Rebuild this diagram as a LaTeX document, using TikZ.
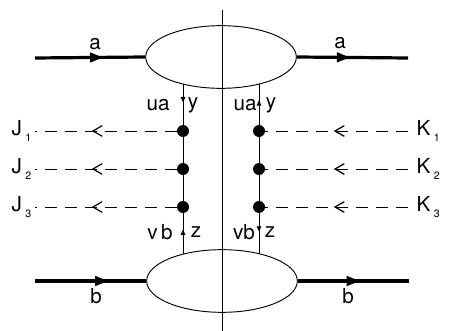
\documentclass[tikz,border=0pt]{standalone}
\usepackage{fontspec}
\setmainfont{TeX Gyre Heros}
\usepackage{tikz}
\usetikzlibrary{arrows.meta,shapes.geometric,decorations.markings}

\newcommand{\sub}[2]{#1\,\raisebox{-4pt}{\footnotesize #2}}

\begin{document}
\begin{tikzpicture}[
  x=0.75pt, y=-0.75pt,
  blob/.style={ellipse, draw, line width=0.7pt, minimum width=113pt, minimum height=47pt, inner sep=0pt},
  heavy/.style={line width=2.4pt},
  thin/.style={line width=0.7pt},
  dashline/.style={line width=0.7pt, dash pattern=on 9pt off 6pt},
  dot/.style={circle, fill, inner sep=0pt, minimum size=9pt},
  midarrow/.style={postaction={decorate}, decoration={markings,
    mark=at position #1 with {\arrow{Triangle[length=10pt,width=7pt]}}}},
  midbarb/.style={postaction={decorate}, decoration={markings,
    mark=at position #1 with {\arrow{Straight Barb[length=7pt,width=8pt,line width=0.9pt]}}}},
  tinytip/.style={postaction={decorate}, decoration={markings,
    mark=at position #1 with {\arrow{Triangle[length=4pt,width=3.5pt]}}}},
  lbl/.style={font=\fontsize{15.5}{17}\selectfont, inner sep=1pt}
]
  \useasboundingbox (0,0) rectangle (449,331);

  % the two blobs and the cut
  \node[blob] (upper) at (221,57) {};
  \node[blob] (lower) at (222,281) {};
  \coordinate (cuttop) at (222,10);
  \coordinate (cutbot) at (222,331);
  \draw[thin] (cuttop) -- (cutbot);

  % external lines
  \coordinate (ain) at (35,58);
  \coordinate (aout) at (408,58);
  \coordinate (bin) at (35,281);
  \coordinate (bout) at (409,281);
  \draw[heavy, midarrow=0.62] (ain) -- (upper.west);
  \draw[heavy, midarrow=0.48] (upper.east) -- (aout);
  \draw[heavy, midarrow=0.66] (bin) -- (lower.west);
  \draw[heavy, midarrow=0.56] (lower.east) -- (bout);
  \node[lbl] (la1) at (95,44) {a};
  \node[lbl] (la2) at (340,43) {a};
  \node[lbl] (lb1) at (96,296) {b};
  \node[lbl] (lb2) at (348,296) {b};

  % rungs
  \coordinate (ltop) at (183,84);
  \coordinate (lbot) at (183,254);
  \coordinate (rtop) at (259,84);
  \coordinate (rbot) at (259,254);
  \node[dot] (j1) at (183,131) {};
  \node[dot] (j2) at (183,169) {};
  \node[dot] (j3) at (183,207) {};
  \node[dot] (k1) at (259,131) {};
  \node[dot] (k2) at (259,169) {};
  \node[dot] (k3) at (259,207) {};
  \draw[thin, tinytip=0.45] (ltop) -- (j1);
  \draw[thin] (j1) -- (j2) -- (j3);
  \draw[thin, tinytip=0.6] (lbot) -- (j3);
  \draw[thin, tinytip=0.6] (k1) -- (rtop);
  \draw[thin] (k1) -- (k2) -- (k3);
  \draw[thin, tinytip=0.45] (k3) -- (rbot);

  \node[lbl] (ua1) at (158,105) {ua};
  \node[lbl] (y1) at (193,105) {y};
  \node[lbl] (ua2) at (245,105) {ua};
  \node[lbl] (y2) at (271,105) {y};
  \node[lbl] (vb1) at (160,232) {v\,b};
  \node[lbl] (z1) at (196,232) {z};
  \node[lbl] (vb2) at (244,232) {vb};
  \node[lbl] (z2) at (270,232) {z};

  % currents
  \foreach \i/\yy in {1/131,2/169,3/207} {
    \coordinate (jend\i) at (35,\yy);
    \coordinate (kend\i) at (408,\yy);
    \draw[dashline, midbarb=0.6] (j\i) -- (jend\i);
    \draw[dashline, midbarb=0.52] (kend\i) -- (k\i);
    \node[lbl, anchor=east] (jl\i) at (33,\yy) {\sub{J}{\i}};
    \node[lbl, anchor=west] (kl\i) at (415,\yy) {\sub{K}{\i}};
  }
\end{tikzpicture}
\end{document}
